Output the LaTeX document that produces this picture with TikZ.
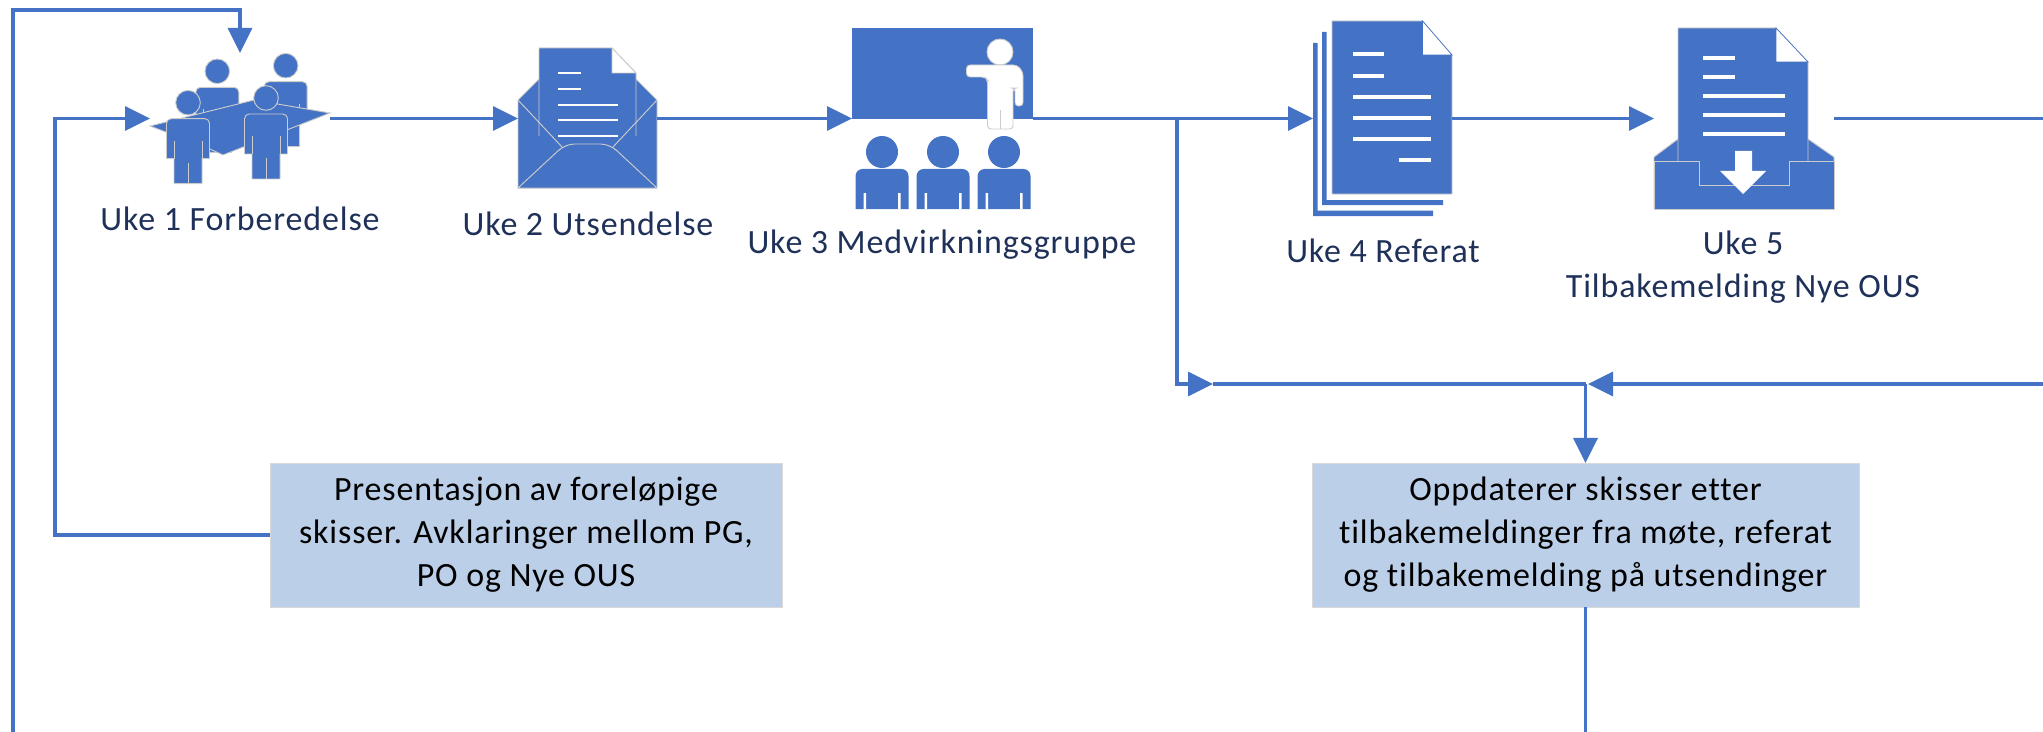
\documentclass[tikz,border=0pt]{standalone}
\usepackage{fontspec}
\setmainfont{Carlito}
\usetikzlibrary{arrows.meta}
\definecolor{flowblue}{HTML}{4472C4}
\definecolor{boxblue}{HTML}{BCCFE8}
\definecolor{labelnavy}{HTML}{1F3158}
\newcommand{\spacedfont}{\fontsize{29}{36.6}\selectfont\addfontfeature{LetterSpace=2.5,Ligatures=NoCommon}}
\tikzset{
	flowline/.style={draw=flowblue,line width=3pt},
	flowarrow/.style={flowline,-{Triangle[length=0.75cm,width=0.72cm]}},
	iconfill/.style={fill=flowblue,draw=black!20,line width=0.8pt},
	whitebar/.style={fill=white},
	iconbox/.style 2 args={inner sep=0pt,outer sep=0pt,minimum width=#1*0.03cm,minimum height=#2*0.03cm},
	iconlabel/.style={text=labelnavy,font=\spacedfont,align=center},
	notebox/.style={fill=boxblue,draw=black!15,line width=0.6pt,inner sep=0pt,outer sep=0pt,font=\spacedfont,align=center},
	pics/person/.style={code={
		\draw [iconfill] (0,0) circle (12.3);
		\draw [iconfill] (-21.5,56) [rounded corners=4pt] -- (-21.5,16) -- (21.5,16) -- (21.5,45) [sharp corners] -- (21.5,56) -- (14,56) -- (14,81) -- (-14,81) -- (-14,56) -- cycle;
		\draw [black!20,line width=0.8pt] (-14,38) -- (-14,56) (14,38) -- (14,56) (0,60) -- (0,81);
	}},
	pics/listener/.style={code={
		\fill [flowblue] (0,0) circle (16);
		\fill [flowblue] (-26.5,57) [rounded corners=6pt] -- (-26.5,17) -- (26.5,17) -- (26.5,45) [sharp corners] -- (26.5,57) -- cycle;
		\fill [white] (-18.5,41) rectangle (-16,57) (16,41) rectangle (18.5,57);
	}}
}
\begin{document}
\begin{tikzpicture}[x=0.03cm,y=-0.03cm]
	\useasboundingbox (0,0) rectangle (2043,732);
	\node [iconbox={180}{131}] (forberedelse) at (240,118.5) {};
	\node [iconbox={139}{140}] (utsendelse) at (587.5,118.5) {};
	\node [iconbox={181}{181}] (medvirkning) at (942.5,118.5) {};
	\node [iconbox={139}{195}] (referat) at (1382.5,118.5) {};
	\node [iconbox={180}{181}] (tilbakemelding) at (1744,118.5) {};
	\pic at (217.3,71.3) {person};
	\pic at (285.7,65.7) {person};
	\draw [iconfill] (150,126) -- (254,100) -- (330,113) -- (223,155) -- (210,149) -- cycle;
	\pic at (188,102.7) {person};
	\pic at (266,98) {person};
	\draw [iconfill] (518,100) -- (539,79) -- (636,79) -- (657,100) -- (657,188) -- (518,188) -- cycle;
	\draw [iconfill] (539,136) -- (539,48) -- (612,48) -- (636,73) -- (636,136);
	\draw [fill=white,draw=black!20,line width=0.8pt] (612,48) -- (636,73) -- (612,73) -- cycle;
	\foreach \liney in {73,89} \fill [whitebar] (558,\liney-1.3) rectangle (581,\liney+1.3);
	\foreach \liney in {105,120,136} \fill [whitebar] (558,\liney-1.3) rectangle (618,\liney+1.3);
	\draw [iconfill] (518,188) -- (560,149) [rounded corners=8pt] -- (565,144) -- (610,144) [sharp corners] -- (615,149) -- (657,188) -- cycle;
	\draw [black!20,line width=0.8pt] (518,100) -- (562,147) (657,100) -- (613,147);
	\fill [flowblue] (852,28) rectangle (1033,119);
	\draw [fill=white,draw=black!20,line width=0.8pt] (1000,52) ellipse (13 and 13);
	\draw [fill=white,draw=black!20,line width=0.8pt,rounded corners=3pt] (966.5,65) -- (1017,65) -- (1023,72) -- (1023,106) -- (1015,106) -- (1015,88) -- (1013,88) -- (1013,129) -- (987.5,129) -- (987.5,80) -- (985,77) -- (966.5,77) -- cycle;
	\draw [black!20,line width=0.8pt] (1000,110) -- (1000,129);
	\pic at (882,152) {listener};
	\pic at (943,152) {listener};
	\pic at (1004,152) {listener};
	\fill [flowblue] (1313,43) -- (1317.5,43) -- (1317.5,210.5) -- (1433,210.5) -- (1433,216) -- (1313,216) -- cycle;
	\fill [flowblue] (1322,32) -- (1326.5,32) -- (1326.5,200) -- (1443,200) -- (1443,205) -- (1322,205) -- cycle;
	\draw [iconfill] (1332,21) -- (1422.5,21) -- (1452,55) -- (1452,194) -- (1332,194) -- cycle;
	\draw [fill=white,draw=flowblue,line width=0.6pt] (1422.5,21) -- (1452,55) -- (1422.5,55) -- cycle;
	\foreach \liney in {54,76} \fill [whitebar] (1353,\liney-2.2) rectangle (1384,\liney+2.2);
	\foreach \liney in {97,118,139} \fill [whitebar] (1353,\liney-2.2) rectangle (1430.5,\liney+2.2);
	\fill [whitebar] (1399,157.8) rectangle (1430.5,162.2);
	\draw [iconfill] (1654,157) -- (1678,139) -- (1808,139) -- (1834,157) -- (1834,209) -- (1654,209) -- cycle;
	\draw [iconfill] (1678,161) -- (1678,28) -- (1776,28) -- (1808,62) -- (1808,161);
	\draw [fill=white,draw=flowblue,line width=0.6pt] (1776,28) -- (1808,62) -- (1776,62) -- cycle;
	\foreach \liney in {58,77} \fill [whitebar] (1703,\liney-2) rectangle (1735,\liney+2);
	\foreach \liney in {96,115,134} \fill [whitebar] (1703,\liney-2) rectangle (1785,\liney+2);
	\draw [iconfill] (1654,161) -- (1699,161) -- (1699,185) -- (1789,185) -- (1789,161) -- (1834,161) -- (1834,209) -- (1654,209) -- cycle;
	\fill [flowblue] (1700,150) rectangle (1788,184.5);
	\draw [black!20,line width=0.8pt] (1699,161) -- (1699,185) -- (1789,185) -- (1789,161);
	\fill [white] (1735,151) -- (1752,151) -- (1752,171) -- (1766,171) -- (1743,194) -- (1720,171) -- (1735,171) -- cycle;
	\node [iconlabel] (labelone) at (240,219) {Uke 1 Forberedelse};
	\node [iconlabel] (labeltwo) at (588,224) {Uke 2 Utsendelse};
	\node [iconlabel] (labelthree) at (942,245) {Uke 3 Medvirkningsgruppe};
	\node [iconlabel] (labelfour) at (1383,251) {Uke 4 Referat};
	\node [iconlabel] (labelfive) at (1743,267) {Uke 5\\Tilbakemelding Nye OUS};
	\node [notebox,minimum width=15.36cm,minimum height=4.32cm] (noteleft) at (526,535) {Presentasjon av foreløpige\\skisser. Avklaringer mellom PG,\\PO og Nye OUS};
	\node [notebox,minimum width=16.41cm,minimum height=4.32cm] (noteright) at (1585.5,535) {Oppdaterer skisser etter\\tilbakemeldinger fra møte, referat\\og tilbakemelding på utsendinger};
	\coordinate (outerstart) at (13,732);
	\coordinate (outertop) at (13,10);
	\coordinate (branchtop) at (1177,118.5);
	\coordinate (mergeleft) at (1213,384);
	\coordinate (mergepoint) at (1585.5,384);
	\coordinate (mergetip) at (1588,384);
	\coordinate (innercorner) at (55,535);
	\coordinate (rightedgetop) at (2043,118.5);
	\coordinate (rightedgelow) at (2043,384);
	\coordinate (bottomend) at (1585.5,732);
	\draw [flowarrow] (outerstart) -- (outertop) -| (forberedelse.north);
	\draw [flowarrow] (noteleft.west) -- (innercorner) |- (forberedelse.west);
	\draw [flowarrow] (forberedelse.east) -- (utsendelse.west);
	\draw [flowarrow] (utsendelse.east) -- (medvirkning.west);
	\draw [flowarrow] (medvirkning.east) -- (referat.west);
	\draw [flowarrow] (referat.east) -- (tilbakemelding.west);
	\draw [flowline] (tilbakemelding.east) -- (rightedgetop);
	\draw [flowarrow] (branchtop) |- (mergeleft);
	\draw [flowline] (mergeleft) -- (mergepoint);
	\draw [flowarrow] (rightedgelow) -- (mergetip);
	\draw [flowarrow] (mergepoint) -- (noteright.north);
	\draw [flowline] (noteright.south) -- (bottomend);
\end{tikzpicture}
\end{document}
